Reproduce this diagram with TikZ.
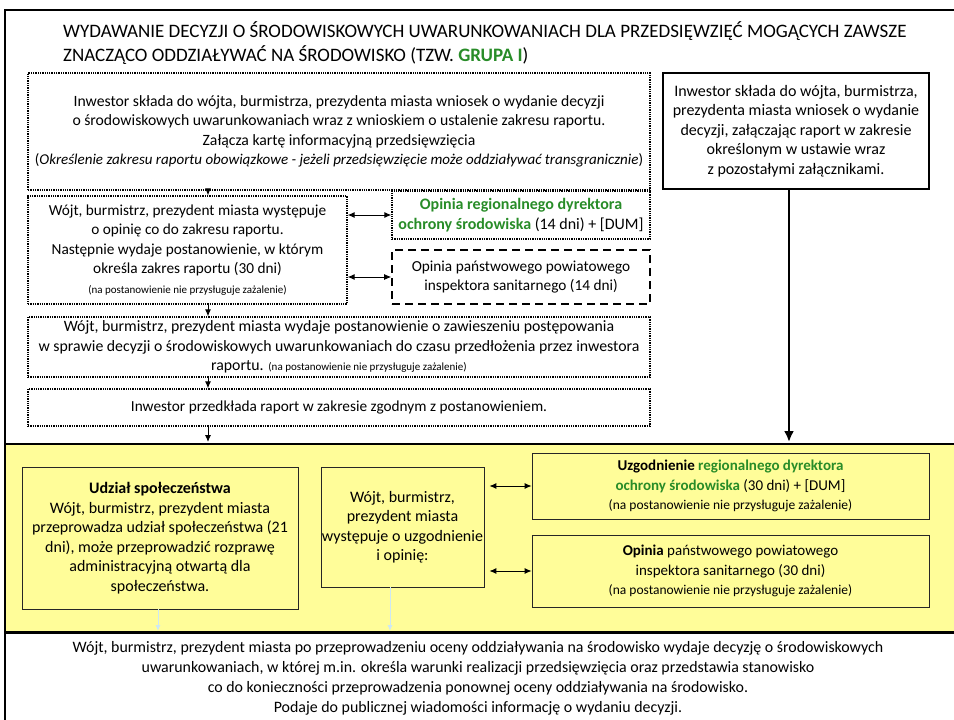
\documentclass[tikz,border=0pt]{standalone}
\usepackage{fontspec}
\setmainfont{Carlito}
\usepackage{xcolor}
\usetikzlibrary{
  calc,
  positioning,
  arrows.meta
}
\definecolor{bandyellow}{RGB}{255,253,153}
\definecolor{grupagreen}{RGB}{40,140,40}
\definecolor{paleblue}{RGB}{205,232,244}
\newcommand{\grn}[1]{\textcolor{grupagreen}{\textbf{#1}}}
\newcommand{\nazal}{\fontsize{11}{15}\selectfont(na postanowienie nie przysługuje zażalenie)}

\begin{document}
\begin{tikzpicture}[x=1pt,y=-1pt,>={Latex[length=7pt,width=6pt]}]
  \tikzset{
    txt/.style={font=\fontsize{15.3}{19.5}\selectfont,align=center,inner sep=1pt},
    dotbox/.style={txt,draw,densely dotted,line width=1.3pt},
    dashbox/.style={txt,draw,dash pattern=on 8pt off 5pt,line width=1.6pt},
    heavybox/.style={txt,font=\fontsize{16}{19.5}\selectfont,draw,line width=2.5pt},
    bandbox/.style={txt,font=\fontsize{16}{19.5}\selectfont,draw=black!85,fill=bandyellow,line width=0.8pt},
    flow/.style={->,line width=0.9pt},
    both/.style={<->,line width=0.9pt},
    feed/.style={->,paleblue,line width=1pt,>={Latex[length=6pt,width=5pt]}},
  }
  \useasboundingbox (0,0) rectangle (954,720);

  % frame and yellow band
  \fill[bandyellow] (5,444) rectangle (956,632);
  \draw[line width=2.5pt] (5,725) -- (5,10) -- (956,10);
  \draw[line width=2.5pt] (4,444) -- (956,444);
  \draw[line width=3pt] (4,632) -- (956,632);
  \coordinate (bandtop) at (0,442);
  \coordinate (bandbot) at (0,631);
  \coordinate (ax) at (208,0);
  \coordinate (rx) at (789,0);
  \coordinate (fx1) at (158,0);
  \coordinate (fx2) at (390,0);

  \node[anchor=west,align=left,inner sep=0pt,
        font=\fontsize{19}{24}\selectfont] (title) at (63,43)
    {WYDAWANIE DECYZJI O ŚRODOWISKOWYCH UWARUNKOWANIACH DLA PRZEDSIĘWZIĘĆ MOGĄCYCH ZAWSZE\\
     ZNACZĄCO ODDZIAŁYWAĆ NA ŚRODOWISKO (TZW. \grn{GRUPA I})};

  % first path
  \node[dotbox,font=\fontsize{15.7}{19.5}\selectfont,minimum width=622,minimum height=117] (wniosek) at (339,131.5)
    {Inwestor składa do wójta, burmistrza, prezydenta miasta wniosek o wydanie decyzji\\
     o środowiskowych uwarunkowaniach wraz z wnioskiem o ustalenie zakresu raportu.\\
     Załącza kartę informacyjną przedsięwzięcia\\
     {\fontsize{15}{19.5}\selectfont(\textit{Określenie zakresu raportu obowiązkowe - jeżeli przedsięwzięcie może oddziaływać transgranicznie})}};
  \node[heavybox,minimum width=266,minimum height=116] (raport) at (796,131)
    {Inwestor składa do wójta, burmistrza,\\
     prezydenta miasta wniosek o wydanie\\
     decyzji, załączając raport w zakresie\\
     określonym w ustawie wraz\\
     z pozostałymi załącznikami.};
  \node[dotbox,minimum width=319,minimum height=108] (zakres) at (187.5,250)
    {Wójt, burmistrz, prezydent miasta występuje\\
     o opinię co do zakresu raportu.\\
     Następnie wydaje postanowienie, w którym\\
     określa zakres raportu (30 dni)\\
     \nazal};
  \node[dotbox,font=\fontsize{16}{19.5}\selectfont,minimum width=258,minimum height=48] (rdos) at (521,215)
    {\grn{Opinia regionalnego dyrektora}\\
     \grn{ochrony środowiska} (14 dni) + [DUM]};
  \node[dashbox,minimum width=258,minimum height=54] (ppis) at (521,277)
    {Opinia państwowego powiatowego\\
     inspektora sanitarnego (14 dni)};
  \node[dotbox,font=\fontsize{15.8}{19.5}\selectfont,minimum width=622,minimum height=60] (zawies) at (339,347)
    {Wójt, burmistrz, prezydent miasta wydaje postanowienie o zawieszeniu postępowania\\
     w sprawie decyzji o środowiskowych uwarunkowaniach do czasu przedłożenia przez inwestora\\
     raportu. \nazal};
  \node[dotbox,minimum width=622,minimum height=37] (przedkl) at (339,407.5)
    {Inwestor przedkłada raport w zakresie zgodnym z postanowieniem.};

  % yellow band
  \node[bandbox,minimum width=276,minimum height=142] (udzial) at (160,538)
    {\textbf{Udział społeczeństwa}\\
     Wójt, burmistrz, prezydent miasta\\
     przeprowadza udział społeczeństwa (21\\
     dni), może przeprowadzić rozprawę\\
     administracyjną otwartą dla\\
     społeczeństwa.};
  \node[bandbox,minimum width=161,minimum height=120] (wystep) at (402.5,527)
    {Wójt, burmistrz,\\
     prezydent miasta\\
     występuje o uzgodnienie\\
     i opinię:};
  \node[bandbox,font=\fontsize{15}{19.5}\selectfont,minimum width=397,minimum height=66] (uzgod) at (730.5,486)
    {\textbf{Uzgodnienie} \grn{regionalnego dyrektora}\\
     \grn{ochrony środowiska} (30 dni) + [DUM]\\
     {\fontsize{13.5}{17}\selectfont(na postanowienie nie przysługuje zażalenie)}};
  \node[bandbox,font=\fontsize{15}{19.5}\selectfont,minimum width=397,minimum height=72] (opinia) at (730.5,571)
    {\textbf{Opinia} państwowego powiatowego\\
     inspektora sanitarnego (30 dni)\\
     {\fontsize{13.5}{17}\selectfont(na postanowienie nie przysługuje zażalenie)}};

  \node[txt,font=\fontsize{15.9}{20}\selectfont] (decyzja) at (478,678)
    {Wójt, burmistrz, prezydent miasta po przeprowadzeniu oceny oddziaływania na środowisko wydaje decyzję o środowiskowych\\
     uwarunkowaniach, w której m.in. określa warunki realizacji przedsięwzięcia oraz przedstawia stanowisko\\
     co do konieczności przeprowadzenia ponownej oceny oddziaływania na środowisko.\\
     Podaje do publicznej wiadomości informację o wydaniu decyzji.};

  % connectors
  \draw[flow] (wniosek.south -| ax) -- (zakres.north -| ax);
  \draw[flow] (zakres.south -| ax) -- (zawies.north -| ax);
  \draw[flow] (zawies.south -| ax) -- (przedkl.north -| ax);
  \draw[flow] (przedkl.south -| ax) -- (bandtop -| ax);
  \draw[both] (zakres.east |- rdos.west) -- (rdos.west);
  \draw[both] (zakres.east |- ppis.west) -- (ppis.west);
  \draw[->,line width=2.4pt,>={Latex[length=11pt,width=10pt]}]
    (raport.south -| rx) -- (bandtop -| rx);
  \draw[both] ([xshift=5pt]wystep.east |- uzgod.west) -- (uzgod.west);
  \draw[both] ([xshift=5pt]wystep.east |- opinia.west) -- (opinia.west);
  \draw[feed] (udzial.south -| fx1) -- (bandbot -| fx1);
  \draw[feed] (wystep.south -| fx2) -- (bandbot -| fx2);

\end{tikzpicture}
\end{document}
